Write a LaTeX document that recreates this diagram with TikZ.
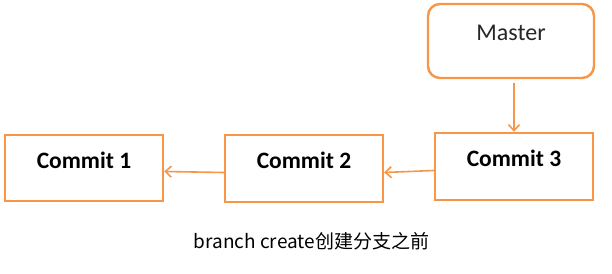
\documentclass[tikz,border=0pt]{standalone}
\usepackage{fontspec}
\setmainfont{Carlito}
\newfontfamily\cjkfont{Noto Sans CJK SC}
\usetikzlibrary{arrows.meta}
\definecolor{orng}{HTML}{F79646}
\definecolor{txtgray}{HTML}{262626}
\tikzset{
  commitbox/.style={draw=orng, line width=2.4pt, minimum width=158pt, minimum height=66pt, inner sep=0pt},
  masterbox/.style={draw=orng, line width=2.4pt, rounded corners=12pt, minimum width=166pt, minimum height=74pt, inner sep=0pt},
  lbl/.style={font=\fontsize{23.5}{26}\selectfont\bfseries, text=black, yshift=8pt},
  mlbl/.style={font=\fontsize{24}{27}\selectfont, text=txtgray, yshift=8pt},
  arr/.style={draw=orng, line width=1.6pt, -{Straight Barb[length=6pt,width=11pt]}}
}
\begin{document}
\begin{tikzpicture}[x=1pt,y=-1pt]
\useasboundingbox (0,0) rectangle (612,273);
\node[commitbox, label={[lbl]center:Commit 1}] (c1) at (84,168) {};
\node[commitbox, minimum height=67pt, label={[lbl]center:Commit 2}] (c2) at (304,168.5) {};
\node[commitbox, minimum height=67pt, label={[lbl]center:Commit 3}] (c3) at (514,166.5) {};
\node[masterbox, label={[mlbl]center:Master}] (m) at (511,41) {};
\draw[arr] ([yshift=-4pt]c3.west) -- ([yshift=-4pt]c2.east);
\draw[arr] ([yshift=-4pt]c2.west) -- ([yshift=-3.5pt]c1.east);
\draw[arr] ([xshift=3pt,yshift=-4pt]m.south) -- ([xshift=0pt]c3.north);
\node[font=\cjkfont\fontsize{19}{22}\selectfont] (cap) at (311.5,241) {branch create创建分支之前};
\end{tikzpicture}
\end{document}
